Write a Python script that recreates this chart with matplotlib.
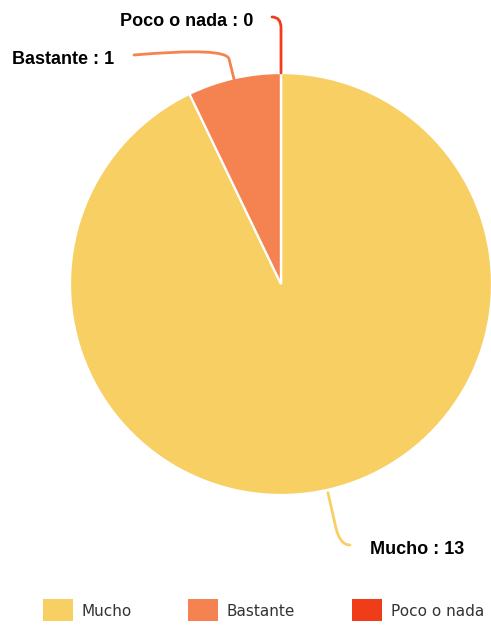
import numpy as np
import matplotlib
matplotlib.use("Agg")
import matplotlib.pyplot as plt
from matplotlib.path import Path
from matplotlib.patches import PathPatch, Rectangle

# answers and counts
categories = ["Mucho", "Bastante", "Poco o nada"]
counts = [13, 1, 0]
colors = ["#F8CF62", "#F58352", "#EE3D18"]

W, H = 491, 625
fig = plt.figure(figsize=(W / 100, H / 100), dpi=100)
ax = fig.add_axes([0, 0, 1, 1])
ax.set_xlim(0, W)
ax.set_ylim(0, H)
ax.axis("off")

cx, cy, r = 281, 341, 211
wedges, _ = ax.pie(counts, colors=colors, startangle=90, counterclock=False,
                   center=(cx, cy), radius=r, frame=True,
                   wedgeprops=dict(edgecolor="white", linewidth=1.6))
ax.set_xlim(0, W)
ax.set_ylim(0, H)
ax.axis("off")


def edge_point(w):
    ang = np.deg2rad((w.theta1 + w.theta2) / 2)
    return cx + r * np.cos(ang), cy + r * np.sin(ang)


def connector(pts, color):
    codes = [Path.MOVETO, Path.LINETO, Path.CURVE3, Path.CURVE3]
    ax.add_patch(PathPatch(Path(pts, codes), fill=False, edgecolor=color,
                           linewidth=2, capstyle="round"))


lab_font = dict(fontsize=13, fontweight="bold", family="Liberation Sans",
                color="black")

# Mucho
x0, y0 = edge_point(wedges[0])
connector([(x0, y0 - 3), (x0 + 8, 97), (x0 + 12, 80), (x0 + 22, 80)], colors[0])
ax.text(370, 71, f"{categories[0]} : {counts[0]}", ha="left", va="baseline", **lab_font)

# Bastante
x1, y1 = edge_point(wedges[1])
connector([(x1, y1 - 1), (x1 - 5, 566), (x1 - 8, 578), (134, 570)], colors[1])
ax.text(12, 561, f"{categories[1]} : {counts[1]}", ha="left", va="baseline", **lab_font)

# Poco o nada
x2, y2 = edge_point(wedges[2])
connector([(x2, y2), (x2, 597), (x2, 608), (x2 - 9, 608)], colors[2])
ax.text(253, 599, f"{categories[2]} : {counts[2]}", ha="right", va="baseline", **lab_font)

# legend
leg_x = [43, 188, 352]
for lx, name, c in zip(leg_x, categories, colors):
    ax.add_patch(Rectangle((lx, H - 621), 30, 22, facecolor=c, edgecolor="none"))
    ax.text(lx + 39, H - 612, name, ha="left", va="center", fontsize=11,
            family="DejaVu Sans", color="#333333")

fig.savefig("out.png", dpi=100)
